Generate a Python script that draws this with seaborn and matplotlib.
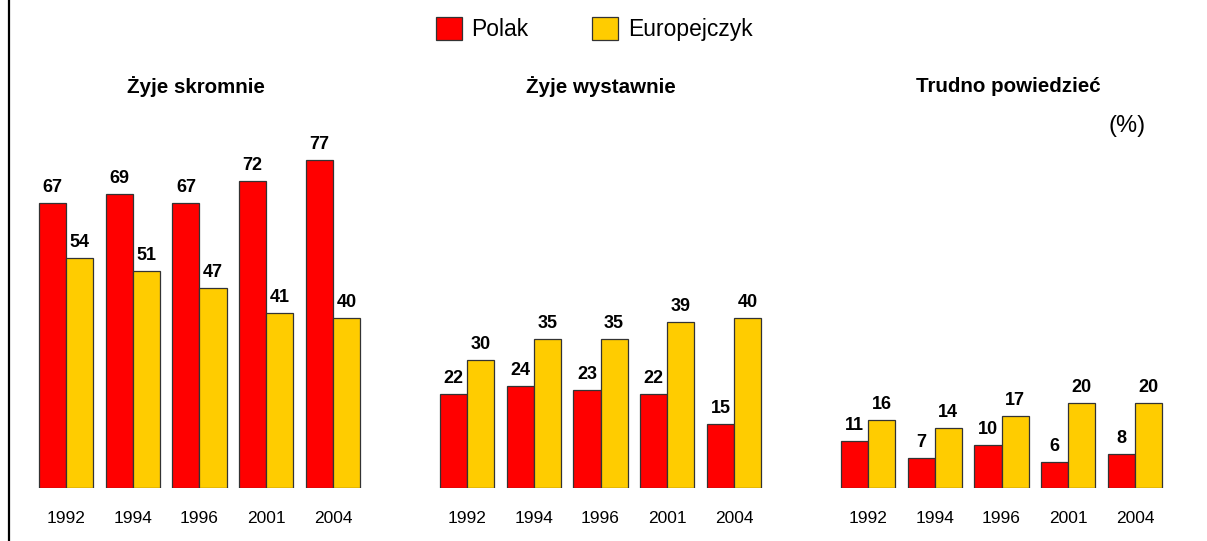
import matplotlib
matplotlib.use("Agg")
import matplotlib.pyplot as plt
from matplotlib.patches import Patch
from matplotlib.lines import Line2D
import seaborn as sns
import pandas as pd

years = ["1992", "1994", "1996", "2001", "2004"]
series = ["Polak", "Europejczyk"]
panel_titles = ["Żyje skromnie", "Żyje wystawnie", "Trudno powiedzieć"]
polak = [
    [67, 69, 67, 72, 77],
    [22, 24, 23, 22, 15],
    [11, 7, 10, 6, 8],
]
europejczyk = [
    [54, 51, 47, 41, 40],
    [30, 35, 35, 39, 40],
    [16, 14, 17, 20, 20],
]
colors = ["#FF0000", "#FFCC00"]

sns.set_style("white")
plt.rcParams["font.family"] = ["Liberation Sans", "DejaVu Sans"]
plt.rcParams["text.color"] = "black"
plt.rcParams["xtick.color"] = "black"

W, H = 1207, 541
fig = plt.figure(figsize=(W / 100, H / 100), dpi=100)

ppu = 4.26
ymax = 80
base_px = 488
ax_h = ymax * ppu
group_centers_px = [66, 467, 868]
pitch = 66.75
title_x_px = [196, 601, 1008]

for i in range(3):
    left_px = group_centers_px[i] - pitch / 2
    ax = fig.add_axes([left_px / W, (H - base_px) / H, 5 * pitch / W, ax_h / H])
    df = pd.DataFrame({
        "year": years * 2,
        "value": polak[i] + europejczyk[i],
        "group": [series[0]] * 5 + [series[1]] * 5,
    })
    sns.barplot(data=df, x="year", y="value", hue="group", hue_order=series,
                palette=colors, width=0.81, edgecolor="#333333", linewidth=0.9,
                saturation=1, ax=ax, legend=False, errorbar=None)
    for c in ax.containers:
        ax.bar_label(c, fmt="%d", padding=5, fontsize=13, fontweight="bold", color="black")
    ax.set_xlim(-0.5, 4.5)
    ax.set_ylim(0, ymax)
    ax.set_xlabel("")
    ax.set_ylabel("")
    ax.set_yticks([])
    ax.tick_params(axis="x", length=0, pad=16.5, labelsize=12.5, labelcolor="black")
    for s in ax.spines.values():
        s.set_visible(False)
    ax.patch.set_alpha(0)
    fig.text(title_x_px[i] / W, 1 - 87 / H, panel_titles[i], ha="center", va="center",
             fontsize=14.8, fontweight="bold", color="black")

fig.text(1127 / W, 1 - 126 / H, "(%)", ha="center", va="center", fontsize=17, color="black")

handles = [Patch(facecolor=colors[0], edgecolor="#333333", linewidth=0.9),
           Patch(facecolor=colors[1], edgecolor="#333333", linewidth=0.9)]
fig.legend(handles, series, loc="center", bbox_to_anchor=(594 / W, 1 - 29 / H),
           ncol=2, frameon=False, fontsize=16.5, handlelength=1.15, handleheight=1.15,
           handletextpad=0.42, columnspacing=2.75, labelcolor="black")

fig.add_artist(Line2D([9 / W, 9 / W], [0, 1], color="black", linewidth=1.6))

fig.savefig("out.png", dpi=100)
